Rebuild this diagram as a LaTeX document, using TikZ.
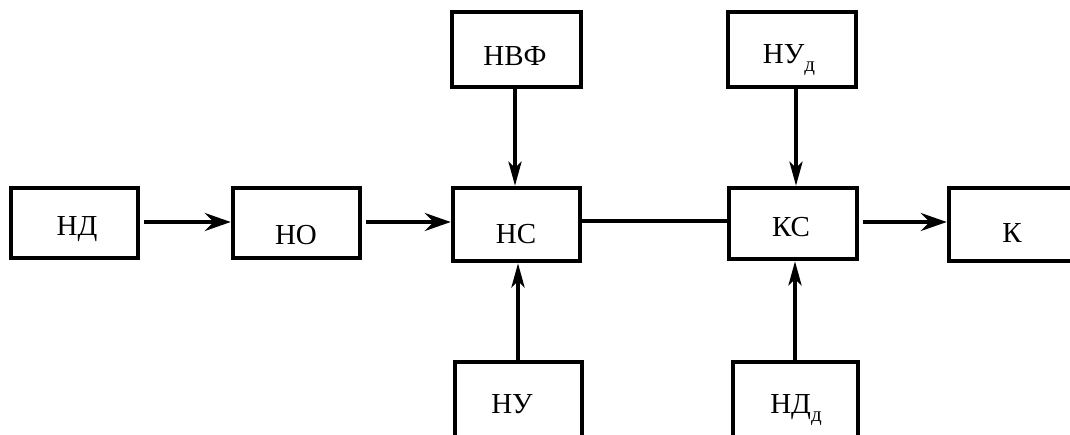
\documentclass[tikz,border=0pt]{standalone}
\usepackage{fontspec}
\setmainfont{Liberation Serif}
\usetikzlibrary{arrows.meta}
\newcommand{\sbd}{\raisebox{-0.3em}{\fontsize{21}{21}\selectfont д}}
\begin{document}
\begin{tikzpicture}[x=1pt,y=-1pt,
  blk/.style={draw, line width=4.5pt, inner sep=0pt, minimum width=#1},
  lbl/.style={anchor=base, inner sep=0pt, font=\fontsize{29}{29}\selectfont},
  harr/.style={line width=3.8pt, -{Stealth[length=26pt,width=18pt,inset=9pt]}},
  varr/.style={line width=3.8pt, -{Stealth[length=24pt,width=13pt,inset=6pt]}},
  ln/.style={line width=3.4pt}]
\useasboundingbox (0,0) rectangle (1070,434);
\clip (0,0) rectangle (1070,434);
% boxes
\node[blk=127pt, minimum height=70pt] (nd)  at (74.5,223) {};
\node[blk=127pt, minimum height=70pt] (no)  at (296.5,223) {};
\node[blk=127pt, minimum height=73pt] (ns)  at (516.5,224.5) {};
\node[blk=129pt, minimum height=75pt] (nvf) at (516.5,49.5) {};
\node[blk=128pt, minimum height=71pt] (ks)  at (793,223.5) {};
\node[blk=128pt, minimum height=75pt] (nud) at (792,49.5) {};
\node[blk=131pt, minimum height=73pt] (k)   at (1014.5,224.5) {};
\node[blk=127pt, minimum height=80pt] (nu)  at (518.5,402) {};
\node[blk=125pt, minimum height=80pt] (ndd) at (795.5,402) {};
% labels
\node[lbl] (tnd)  at (77,235) {НД};
\node[lbl] (tno)  at (296,244) {НО};
\node[lbl] (tns)  at (516,243) {НС};
\node[lbl] (tnvf) at (515,65) {НВФ};
\node[lbl] (tks)  at (791,236) {КС};
\node[lbl] (tnud) at (789,63) {НУ\sbd};
\node[lbl] (tk)   at (1012,242) {К};
\node[lbl] (tnu)  at (512,413) {НУ};
\node[lbl] (tndd) at (796,413) {НД\sbd};
% connectors
\draw[harr] ([xshift=4pt,yshift=1pt]nd.east) -- ([yshift=1pt]no.west);
\draw[harr] ([xshift=4pt,yshift=1pt]no.east) -- ([yshift=2.5pt]ns.west);
\draw[varr] ([xshift=-1.5pt]nvf.south) -- ([xshift=-1.5pt]ns.north);
\draw[ln] ([xshift=-3pt,yshift=3.5pt]ns.east) -- ([yshift=3.5pt]ns.east -| ks.west);
\draw[harr] ([xshift=4pt,yshift=1.5pt]ks.east) -- ([yshift=2.5pt]k.west);
\draw[varr] ([xshift=4pt]nud.south) -- ([xshift=3pt]ks.north);
\draw[varr] ([xshift=-0.5pt]nu.north) -- ([xshift=1.5pt]ns.south);
\draw[varr] ([xshift=-0.5pt]ndd.north) -- ([xshift=2pt]ks.south);
\end{tikzpicture}
\end{document}
